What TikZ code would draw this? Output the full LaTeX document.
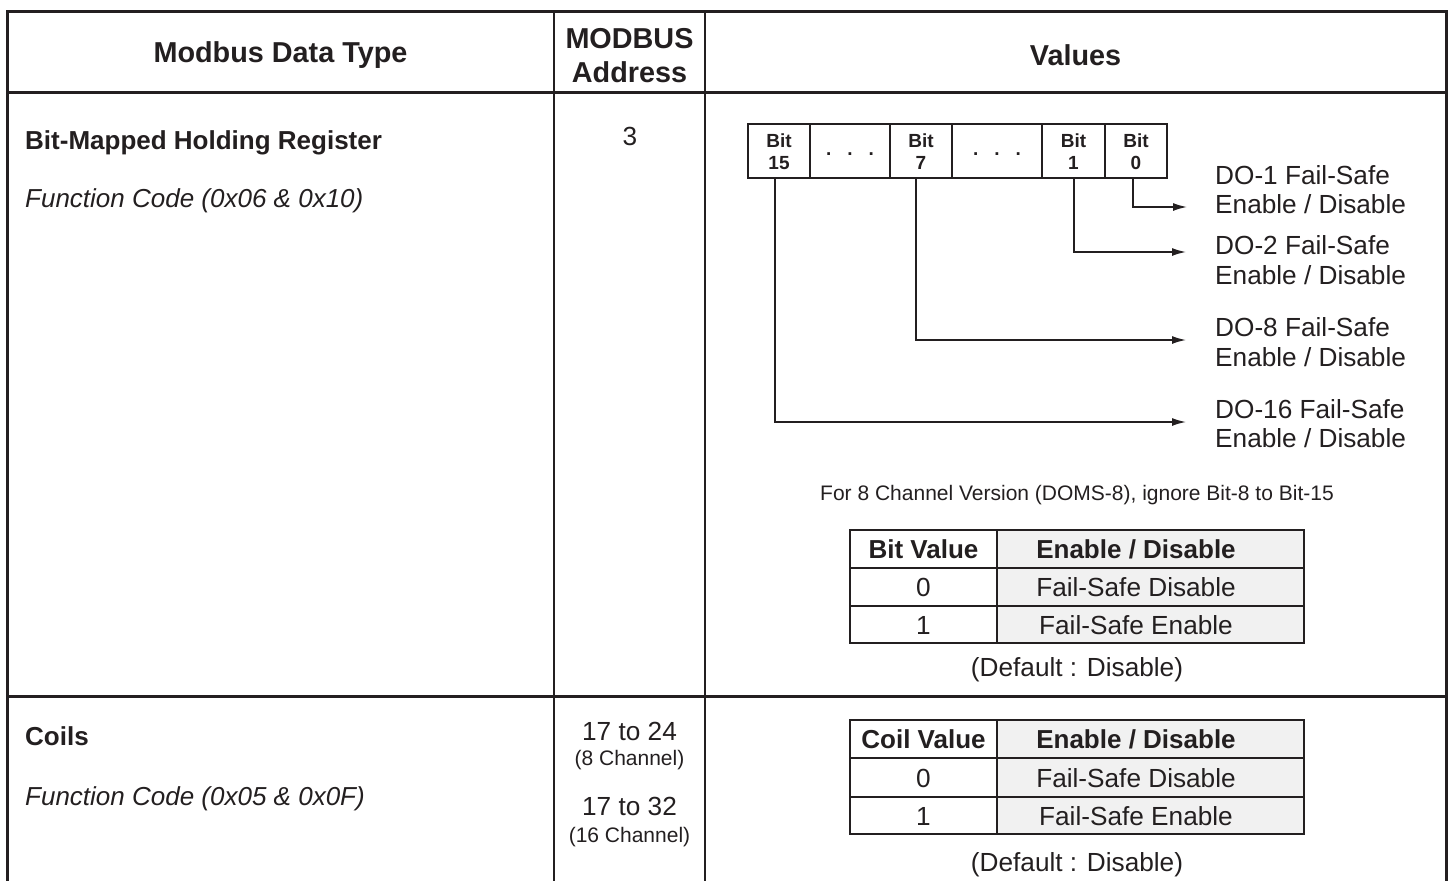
\documentclass[tikz,border=0pt]{standalone}
\usepackage{fontspec}
\setmainfont{Liberation Sans}
\usetikzlibrary{arrows.meta}
\definecolor{ink}{HTML}{231F20}
\definecolor{cellgray}{HTML}{F1F1F1}
\begin{document}
\begin{tikzpicture}[x=1pt,y=-1pt,
  txt/.style={inner sep=0pt, text=ink, anchor=base},
  hdr/.style={txt, font=\fontsize{28.8}{34}\selectfont\bfseries, align=center},
  big/.style={txt, font=\fontsize{26.2}{29.5}\selectfont},
  bigb/.style={txt, font=\fontsize{26}{29.5}\selectfont\bfseries},
  small/.style={txt, font=\fontsize{21}{25}\selectfont},
  lefthead/.style={txt, anchor=base west, font=\fontsize{26}{30}\selectfont\bfseries},
  leftital/.style={txt, anchor=base west, font=\fontsize{26}{30}\selectfont\itshape},
  bitlbl/.style={txt, font=\fontsize{19}{22}\selectfont\bfseries, align=center},
  dolbl/.style={txt, anchor=base west, align=left, font=\fontsize{26.2}{29.5}\selectfont},
  bitcell/.style={draw=ink, line width=2pt, minimum height=54pt, inner sep=0pt},
  grid/.style={draw=ink, line width=2pt},
  frame/.style={draw=ink, line width=3pt},
  divider/.style={draw=ink, line width=2.2pt},
  conn/.style={draw=ink, line width=1.5pt, -{Latex[length=14pt,width=8pt]}}
]
\useasboundingbox (0,0) rectangle (1452,881);

% main table lines
\draw[frame] (7,881) -- (7,11) -- (1446,11) -- (1446,881);
\draw[frame] (7,92) -- (1446,92);
\draw[frame] (7,696) -- (1446,696);
\draw[divider] (554,11) -- (554,881);
\draw[divider] (705,11) -- (705,881);

% header
\node[hdr] (hType) at (280.5,62) {Modbus Data Type};
\node[hdr] (hAddr) at (629.5,82) {MODBUS\\Address};
\node[hdr] (hVal) at (1075.5,65) {Values};

% row 1 left
\node[lefthead] (r1t) at (25,149) {Bit-Mapped Holding Register};
\node[leftital] (r1f) at (25,207) {Function Code (0x06 \& 0x10)};
\node[big] (r1a) at (630,145) {3};

% bit register
\node[bitcell, minimum width=62pt] (b15) at (779,151) {};
\node[bitcell, minimum width=80pt] (d1) at (850,151) {};
\node[bitcell, minimum width=62pt] (b7) at (921,151) {};
\node[bitcell, minimum width=90pt] (d2) at (997,151) {};
\node[bitcell, minimum width=63pt] (b1) at (1073.5,151) {};
\node[bitcell, minimum width=62pt] (b0) at (1136,151) {};
\node[bitlbl] (t15) at (779,169) {Bit\\15};
\node[bitlbl] (t7) at (921,169) {Bit\\7};
\node[bitlbl] (t1) at (1073.5,169) {Bit\\1};
\node[bitlbl] (t0) at (1136,169) {Bit\\0};
\node[bitlbl] (td1) at (850,155) {.\hspace{16pt}.\hspace{16pt}.};
\node[bitlbl] (td2) at (997,155) {.\hspace{16pt}.\hspace{16pt}.};

\coordinate (a0) at (1187,207);
\coordinate (a1) at (1186,252);
\coordinate (a7) at (1186,340);
\coordinate (a15) at (1186,422);
\draw[conn] ([xshift=-3pt]b0.south) |- (a0);
\draw[conn] ([xshift=0.5pt]b1.south) |- (a1);
\draw[conn] ([xshift=-5pt]b7.south) |- (a7);
\draw[conn] ([xshift=-4pt]b15.south) |- (a15);

\node[dolbl] (l0) at (1215,213.5) {DO-1 Fail-Safe\\Enable / Disable};
\node[dolbl] (l1) at (1215,284) {DO-2 Fail-Safe\\Enable / Disable};
\node[dolbl] (l7) at (1215,366) {DO-8 Fail-Safe\\Enable / Disable};
\node[dolbl] (l15) at (1215,447.5) {DO-16 Fail-Safe\\Enable / Disable};

\node[small] (note) at (1077,500.5) {For 8 Channel Version (DOMS-8), ignore Bit-8 to Bit-15};

% small table 1
\fill[cellgray] (997,530) rectangle (1304,643);
\draw[grid] (850,530) rectangle (1304,643);
\draw[grid] (850,568) -- (1304,568);
\draw[grid] (850,606) -- (1304,606);
\draw[grid] (997,530) -- (997,643);
\node[bigb] (t1h1) at (923.5,558) {Bit Value};
\node[bigb] (t1h2) at (1136,558) {Enable / Disable};
\node[big] (t1a1) at (923.5,596) {0};
\node[big] (t1a2) at (1136,596) {Fail-Safe Disable};
\node[big] (t1b1) at (923.5,634) {1};
\node[big] (t1b2) at (1136,634) {Fail-Safe Enable};
\node[big] (t1d) at (1077,676) {(Default : Disable)};

% row 2 left
\node[lefthead] (r2t) at (25,745) {Coils};
\node[leftital] (r2f) at (25,805) {Function Code (0x05 \& 0x0F)};
\node[big] (r2a) at (629.5,740) {17 to 24};
\node[small] (r2b) at (629.5,765) {(8 Channel)};
\node[big] (r2c) at (629.5,815) {17 to 32};
\node[small] (r2d) at (629.5,842) {(16 Channel)};

% small table 2
\fill[cellgray] (997,720) rectangle (1304,834);
\draw[grid] (850,720) rectangle (1304,834);
\draw[grid] (850,758) -- (1304,758);
\draw[grid] (850,797) -- (1304,797);
\draw[grid] (997,720) -- (997,834);
\node[bigb] (t2h1) at (923.5,748) {Coil Value};
\node[bigb] (t2h2) at (1136,748) {Enable / Disable};
\node[big] (t2a1) at (923.5,787) {0};
\node[big] (t2a2) at (1136,787) {Fail-Safe Disable};
\node[big] (t2b1) at (923.5,825) {1};
\node[big] (t2b2) at (1136,825) {Fail-Safe Enable};
\node[big] (t2d) at (1077,871) {(Default : Disable)};
\end{tikzpicture}
\end{document}
